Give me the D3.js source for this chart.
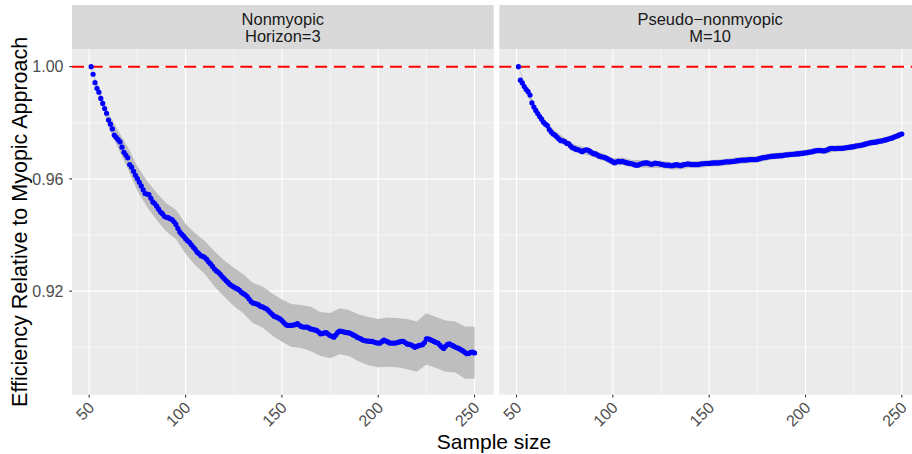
<!DOCTYPE html>
<html>
<head>
<meta charset="utf-8">
<script src="https://cdn.jsdelivr.net/npm/d3@7"></script>
<style>
  body { margin: 0; background: #fff; }
  svg { display: block; font-family: "Liberation Sans", Arial, sans-serif; }
</style>
</head>
<body>
<div id="chart"></div>
<script>
// facet titles
const facetTitles = [["Nonmyopic", "Horizon=3"], ["Pseudo\u2212nonmyopic", "M=10"]];

// sample sizes 51..250
const sampleSizes = d3.range(51, 251);

// mean efficiency, nonmyopic (horizon 3)
const effNonmyopic = [
  1.0000, 0.9973, 0.9943, 0.9923, 0.9909, 0.9887, 0.9869, 0.9851, 0.9834, 0.9810,
  0.9795, 0.9778, 0.9756, 0.9748, 0.9740, 0.9732, 0.9713, 0.9695, 0.9685, 0.9675,
  0.9651, 0.9642, 0.9627, 0.9613, 0.9601, 0.9588, 0.9575, 0.9561, 0.9548, 0.9546,
  0.9544, 0.9531, 0.9518, 0.9512, 0.9503, 0.9492, 0.9482, 0.9476, 0.9467, 0.9463,
  0.9462, 0.9458, 0.9455, 0.9447, 0.9438, 0.9424, 0.9411, 0.9403, 0.9396, 0.9387,
  0.9380, 0.9374, 0.9365, 0.9357, 0.9349, 0.9339, 0.9333, 0.9326, 0.9324, 0.9320,
  0.9313, 0.9304, 0.9297, 0.9288, 0.9279, 0.9272, 0.9267, 0.9260, 0.9252, 0.9245,
  0.9238, 0.9231, 0.9224, 0.9219, 0.9215, 0.9211, 0.9208, 0.9203, 0.9196, 0.9191,
  0.9187, 0.9181, 0.9172, 0.9163, 0.9158, 0.9156, 0.9154, 0.9151, 0.9145, 0.9144,
  0.9140, 0.9137, 0.9131, 0.9124, 0.9117, 0.9111, 0.9108, 0.9105, 0.9101, 0.9095,
  0.9088, 0.9081, 0.9078, 0.9078, 0.9078, 0.9079, 0.9081, 0.9084, 0.9079, 0.9074,
  0.9072, 0.9072, 0.9072, 0.9069, 0.9065, 0.9064, 0.9062, 0.9060, 0.9055, 0.9048,
  0.9049, 0.9051, 0.9052, 0.9047, 0.9042, 0.9039, 0.9036, 0.9044, 0.9053, 0.9058,
  0.9057, 0.9055, 0.9053, 0.9052, 0.9051, 0.9048, 0.9044, 0.9041, 0.9036, 0.9033,
  0.9030, 0.9026, 0.9024, 0.9022, 0.9022, 0.9021, 0.9021, 0.9018, 0.9016, 0.9015,
  0.9015, 0.9021, 0.9026, 0.9022, 0.9019, 0.9015, 0.9015, 0.9015, 0.9015, 0.9017,
  0.9019, 0.9021, 0.9021, 0.9017, 0.9012, 0.9010, 0.9009, 0.9005, 0.9000, 0.9003,
  0.9006, 0.9008, 0.9009, 0.9017, 0.9030, 0.9030, 0.9027, 0.9024, 0.9021, 0.9017,
  0.9015, 0.9008, 0.9001, 0.8996, 0.9004, 0.9010, 0.9012, 0.9008, 0.9005, 0.9001,
  0.8998, 0.8995, 0.8991, 0.8987, 0.8982, 0.8977, 0.8978, 0.8982, 0.8983, 0.8980
];

// mean efficiency, pseudo-nonmyopic (M = 10)
const effPseudo = [
  1.0000, 0.9952, 0.9942, 0.9929, 0.9919, 0.9911, 0.9899, 0.9871, 0.9856, 0.9844,
  0.9833, 0.9822, 0.9813, 0.9802, 0.9795, 0.9790, 0.9776, 0.9767, 0.9760, 0.9756,
  0.9749, 0.9742, 0.9736, 0.9736, 0.9733, 0.9727, 0.9726, 0.9718, 0.9711, 0.9709,
  0.9705, 0.9704, 0.9701, 0.9697, 0.9701, 0.9704, 0.9703, 0.9699, 0.9694, 0.9690,
  0.9689, 0.9685, 0.9681, 0.9679, 0.9678, 0.9676, 0.9672, 0.9669, 0.9665, 0.9661,
  0.9658, 0.9661, 0.9663, 0.9661, 0.9663, 0.9660, 0.9658, 0.9656, 0.9655, 0.9654,
  0.9651, 0.9649, 0.9649, 0.9652, 0.9654, 0.9656, 0.9657, 0.9657, 0.9654, 0.9652,
  0.9654, 0.9656, 0.9655, 0.9654, 0.9652, 0.9651, 0.9649, 0.9649, 0.9649, 0.9647,
  0.9647, 0.9649, 0.9651, 0.9649, 0.9647, 0.9649, 0.9651, 0.9652, 0.9654, 0.9652,
  0.9651, 0.9651, 0.9651, 0.9651, 0.9652, 0.9654, 0.9654, 0.9655, 0.9655, 0.9655,
  0.9656, 0.9657, 0.9657, 0.9657, 0.9657, 0.9658, 0.9659, 0.9660, 0.9661, 0.9661,
  0.9661, 0.9662, 0.9663, 0.9664, 0.9665, 0.9666, 0.9667, 0.9667, 0.9667, 0.9668,
  0.9669, 0.9669, 0.9669, 0.9669, 0.9670, 0.9672, 0.9674, 0.9676, 0.9676, 0.9678,
  0.9679, 0.9680, 0.9681, 0.9681, 0.9682, 0.9682, 0.9683, 0.9683, 0.9685, 0.9686,
  0.9686, 0.9687, 0.9688, 0.9688, 0.9689, 0.9689, 0.9690, 0.9691, 0.9692, 0.9693,
  0.9694, 0.9696, 0.9696, 0.9698, 0.9700, 0.9701, 0.9702, 0.9701, 0.9700, 0.9700,
  0.9703, 0.9706, 0.9709, 0.9709, 0.9708, 0.9708, 0.9709, 0.9709, 0.9709, 0.9710,
  0.9711, 0.9712, 0.9713, 0.9714, 0.9715, 0.9717, 0.9718, 0.9719, 0.9720, 0.9722,
  0.9724, 0.9726, 0.9728, 0.9729, 0.9730, 0.9731, 0.9732, 0.9734, 0.9735, 0.9736,
  0.9738, 0.9740, 0.9742, 0.9744, 0.9746, 0.9749, 0.9752, 0.9754, 0.9758, 0.9760
];

// confidence band, read at every 5th sample size
const bandSizes = [51, 55, 60, 65, 70, 75, 80, 85, 90, 95, 100, 105, 110, 115, 120, 125, 130, 135, 140, 145,
  150, 155, 160, 165, 170, 175, 180, 185, 190, 195, 200, 205, 210, 215, 220, 225, 230, 235, 240, 245, 250];
const bandNonmyopicUpper = [1.0000, 0.9923, 0.9835, 0.9772, 0.9714, 0.9644, 0.9593, 0.9551, 0.9513, 0.9490,
  0.9440, 0.9406, 0.9379, 0.9342, 0.9310, 0.9283, 0.9260, 0.9229, 0.9217, 0.9192,
  0.9170, 0.9154, 0.9151, 0.9144, 0.9126, 0.9122, 0.9139, 0.9132, 0.9117, 0.9108,
  0.9101, 0.9106, 0.9104, 0.9101, 0.9092, 0.9121, 0.9108, 0.9095, 0.9092, 0.9074, 0.9073];
const bandNonmyopicLower = [1.0000, 0.9894, 0.9785, 0.9708, 0.9636, 0.9558, 0.9500, 0.9454, 0.9413, 0.9386,
  0.9333, 0.9292, 0.9261, 0.9217, 0.9181, 0.9147, 0.9121, 0.9086, 0.9070, 0.9042,
  0.9020, 0.9001, 0.8997, 0.8986, 0.8969, 0.8961, 0.8975, 0.8968, 0.8949, 0.8936,
  0.8929, 0.8931, 0.8929, 0.8922, 0.8913, 0.8939, 0.8926, 0.8913, 0.8910, 0.8888, 0.8888];
const bandPseudoUpper = [1.0000, 0.9930, 0.9858, 0.9809, 0.9770, 0.9747, 0.9723, 0.9714, 0.9703, 0.9691,
  0.9674, 0.9676, 0.9667, 0.9667, 0.9665, 0.9665, 0.9660, 0.9660, 0.9664, 0.9664,
  0.9667, 0.9669, 0.9673, 0.9677, 0.9680, 0.9682, 0.9690, 0.9693, 0.9697, 0.9700,
  0.9704, 0.9711, 0.9711, 0.9719, 0.9721, 0.9726, 0.9733, 0.9741, 0.9747, 0.9757, 0.9771];
const bandPseudoLower = [1.0000, 0.9908, 0.9830, 0.9781, 0.9742, 0.9719, 0.9695, 0.9688, 0.9677, 0.9665,
  0.9648, 0.9650, 0.9641, 0.9641, 0.9639, 0.9639, 0.9634, 0.9634, 0.9640, 0.9640,
  0.9643, 0.9645, 0.9649, 0.9653, 0.9656, 0.9658, 0.9666, 0.9671, 0.9675, 0.9678,
  0.9682, 0.9689, 0.9689, 0.9697, 0.9699, 0.9704, 0.9711, 0.9719, 0.9725, 0.9735, 0.9749];

const xTicks = [50, 100, 150, 200, 250];
const xMinor = [75, 125, 175, 225];
const yTicks = [0.92, 0.96, 1.00];
const yMinor = [0.90, 0.94, 0.98];
const reference = 1.0;

const panels = [
  { title: facetTitles[0], mean: effNonmyopic, upper: bandNonmyopicUpper, lower: bandNonmyopicLower, left: 72 },
  { title: facetTitles[1], mean: effPseudo, upper: bandPseudoUpper, lower: bandPseudoLower, left: 499.3 }
];

const W = 912, H = 454;
const panelW = 421.7, stripTop = 5, panelTop = 49, panelBottom = 394.7;

const svg = d3.select("#chart").append("svg")
  .attr("width", W)
  .attr("height", H);

const x = d3.scaleLinear().domain([41.05, 259.95]).range([0, panelW]);
const y = d3.scaleLinear().domain([0.8831, 1.0063]).range([panelBottom, panelTop]);

panels.forEach((p, i) => {
  const g = svg.append("g").attr("transform", `translate(${p.left},0)`);

  // strip, two-line label in one text element
  g.append("rect")
    .attr("x", 0).attr("y", stripTop)
    .attr("width", panelW).attr("height", panelTop - stripTop)
    .attr("fill", "#d9d9d9");
  const strip = g.append("text")
    .attr("text-anchor", "middle")
    .style("font-size", "16.5px")
    .style("fill", "#1a1a1a");
  p.title.forEach((t, k) => {
    strip.append("tspan")
      .attr("x", panelW / 2)
      .attr("y", 25 + k * 16.7)
      .text(t);
  });

  // panel background + grid
  g.append("rect")
    .attr("x", 0).attr("y", panelTop)
    .attr("width", panelW).attr("height", panelBottom - panelTop)
    .attr("fill", "#ebebeb");

  const grid = g.append("g");
  grid.selectAll(".ymin").data(yMinor).join("line")
    .attr("x1", 0).attr("x2", panelW)
    .attr("y1", d => y(d)).attr("y2", d => y(d))
    .attr("stroke", "#fff").attr("stroke-width", 0.55);
  grid.selectAll(".xmin").data(xMinor).join("line")
    .attr("x1", d => x(d)).attr("x2", d => x(d))
    .attr("y1", panelTop).attr("y2", panelBottom)
    .attr("stroke", "#fff").attr("stroke-width", 0.55);
  grid.selectAll(".ymaj").data(yTicks).join("line")
    .attr("x1", 0).attr("x2", panelW)
    .attr("y1", d => y(d)).attr("y2", d => y(d))
    .attr("stroke", "#fff").attr("stroke-width", 1.1);
  grid.selectAll(".xmaj").data(xTicks).join("line")
    .attr("x1", d => x(d)).attr("x2", d => x(d))
    .attr("y1", panelTop).attr("y2", panelBottom)
    .attr("stroke", "#fff").attr("stroke-width", 1.1);

  // confidence band
  const band = bandSizes.map((n, k) => ({ n, lo: p.lower[k], hi: p.upper[k] }));
  g.append("path")
    .datum(band)
    .attr("fill", "#bebebe")
    .attr("d", d3.area().x(d => x(d.n)).y0(d => y(d.lo)).y1(d => y(d.hi)));

  // reference line
  g.append("line")
    .attr("x1", 0).attr("x2", panelW)
    .attr("y1", y(reference)).attr("y2", y(reference))
    .attr("stroke", "#ff0000")
    .attr("stroke-width", 2.1)
    .attr("stroke-dasharray", "12,6.7");

  // points
  g.append("g").selectAll("circle")
    .data(sampleSizes.map((n, k) => ({ n, v: p.mean[k] })))
    .join("circle")
    .attr("cx", d => x(d.n))
    .attr("cy", d => y(d.v))
    .attr("r", 2.6)
    .attr("fill", "#0000ff");

  // x axis
  const xa = g.append("g").attr("transform", `translate(0,${panelBottom})`);
  xa.selectAll("line").data(xTicks).join("line")
    .attr("x1", d => x(d)).attr("x2", d => x(d))
    .attr("y1", 0).attr("y2", 2.75)
    .attr("stroke", "#333").attr("stroke-width", 1.1);
  xa.selectAll("text").data(xTicks).join("text")
    .attr("transform", d => `translate(${x(d) + 6},${14}) rotate(-45)`)
    .attr("text-anchor", "end")
    .style("font-size", "16px")
    .style("fill", "#4d4d4d")
    .text(d => d);

  // y axis on first panel only
  if (i === 0) {
    const ya = g.append("g");
    ya.selectAll("line").data(yTicks).join("line")
      .attr("x1", -2.75).attr("x2", 0)
      .attr("y1", d => y(d)).attr("y2", d => y(d))
      .attr("stroke", "#333").attr("stroke-width", 1.1);
    ya.selectAll("text").data(yTicks).join("text")
      .attr("x", -8.5)
      .attr("y", d => y(d))
      .attr("dy", "0.35em")
      .attr("text-anchor", "end")
      .style("font-size", "16px")
      .style("fill", "#4d4d4d")
      .text(d => d3.format(".2f")(d));
  }
});

// axis titles
svg.append("text")
  .attr("x", 494)
  .attr("y", 449)
  .attr("text-anchor", "middle")
  .style("font-size", "21px")
  .style("fill", "#000")
  .text("Sample size");

svg.append("text")
  .attr("transform", `translate(27,${(panelTop + panelBottom) / 2}) rotate(-90)`)
  .attr("text-anchor", "middle")
  .style("font-size", "21.5px")
  .style("fill", "#000")
  .text("Efficiency Relative to Myopic Approach");
</script>
</body>
</html>
